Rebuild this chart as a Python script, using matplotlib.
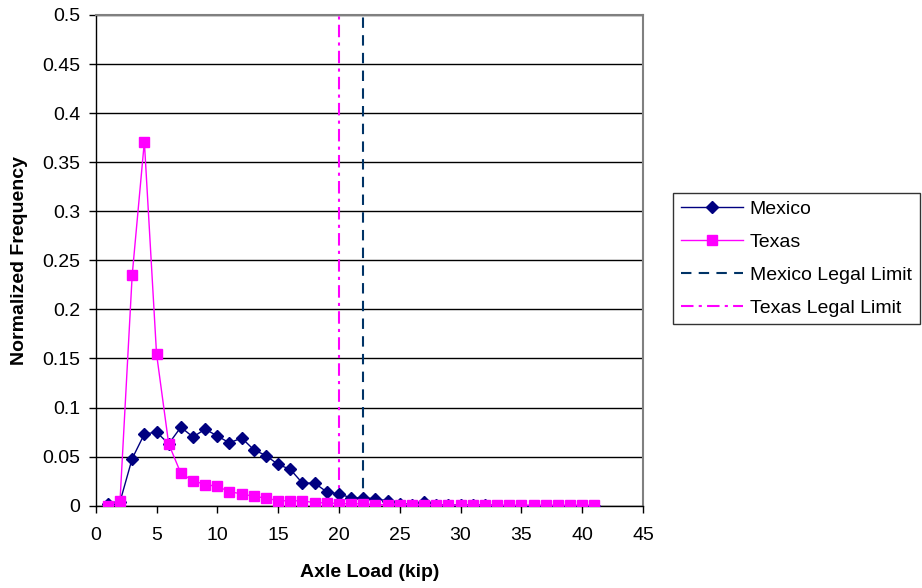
import matplotlib
matplotlib.use('Agg')
import matplotlib.pyplot as plt

plt.rcParams['font.family'] = ['Liberation Sans', 'DejaVu Sans']

axle_load = list(range(1, 42))

mexico = [0.0017, 0.004, 0.048, 0.073, 0.075, 0.063, 0.080, 0.070, 0.078, 0.071,
          0.064, 0.069, 0.057, 0.051, 0.042, 0.037, 0.023, 0.023, 0.014, 0.012,
          0.008, 0.008, 0.007, 0.005, 0.002, 0.001, 0.004, 0.001, 0.0005, 0.0003,
          0.0002, 0.0002, 0.0001, 0.0001, 0.0001, 0.0, 0.0, 0.0, 0.0, 0.0, 0.0]

texas = [0.0, 0.005, 0.235, 0.371, 0.155, 0.063, 0.033, 0.0255, 0.0215, 0.0197,
         0.0143, 0.012, 0.0095, 0.0078, 0.005, 0.005, 0.005, 0.003, 0.003, 0.002,
         0.002, 0.002, 0.001, 0.001, 0.001, 0.001, 0.0007, 0.0007, 0.0005, 0.0005,
         0.0005, 0.0005, 0.0005, 0.0005, 0.0005, 0.0005, 0.0005, 0.0005, 0.0005, 0.0005, 0.0005]

mexico_limit = 22
texas_limit = 20

fig = plt.figure(figsize=(9.22, 5.88), dpi=100)
ax = fig.add_axes([0.1038, 0.140, 0.5936, 0.8345])

ax.plot(axle_load, mexico, color='#000080', lw=1.0, marker='D', ms=6,
        label='Mexico', zorder=3)
ax.plot(axle_load, texas, color='#FF00FF', lw=1.0, marker='s', ms=7,
        label='Texas', zorder=4)
ax.axvline(mexico_limit, color='#003366', lw=1.5, ls=(0, (5, 3.5)),
           label='Mexico Legal Limit', zorder=2)
ax.axvline(texas_limit, color='#FF00FF', lw=1.5, ls=(0, (6, 2.5, 1.5, 2.5)),
           label='Texas Legal Limit', zorder=2)

ax.set_xlim(0, 45)
ax.set_ylim(0, 0.5)
ax.set_xticks(range(0, 46, 5))
ax.set_yticks([i * 0.05 for i in range(11)])
ax.set_yticklabels(['0', '0.05', '0.1', '0.15', '0.2', '0.25', '0.3', '0.35',
                    '0.4', '0.45', '0.5'])
ax.yaxis.grid(True, color='black', lw=1.0)
ax.set_axisbelow(True)
ax.tick_params(direction='out', length=5, width=1, labelsize=14, colors='black')
ax.tick_params(axis='x', pad=10)
ax.tick_params(axis='y', pad=6)

for side in ['top', 'right']:
    ax.spines[side].set_color('#808080')
    ax.spines[side].set_linewidth(1.5)
for side in ['left', 'bottom']:
    ax.spines[side].set_color('black')
    ax.spines[side].set_linewidth(1.0)

ax.set_xlabel('Axle Load (kip)', fontsize=14, fontweight='bold', labelpad=15)
ax.set_ylabel('Normalized Frequency', fontsize=14, fontweight='bold', labelpad=10)

leg = fig.legend(loc='upper left', bbox_to_anchor=(0.730, 0.672), fontsize=14,
                 handlelength=3.2, frameon=True, fancybox=False, borderpad=0.4,
                 labelspacing=0.78, handletextpad=0.35, borderaxespad=0)
leg.get_frame().set_edgecolor('black')
leg.get_frame().set_linewidth(1.0)

fig.savefig('out.png', dpi=100)
